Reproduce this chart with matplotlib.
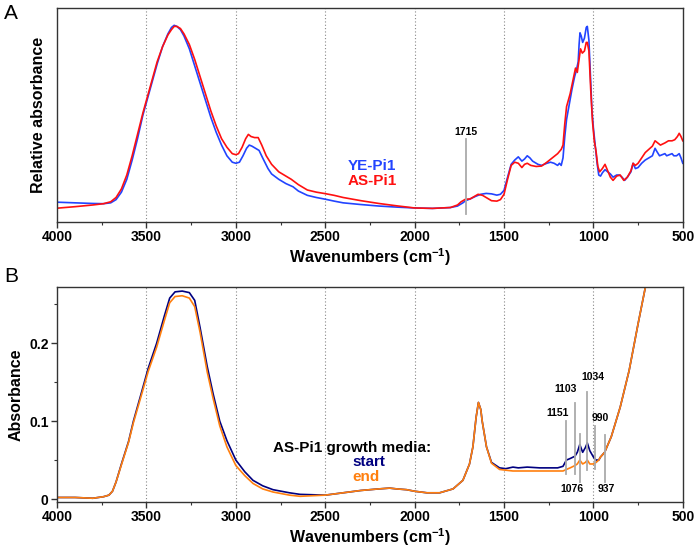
import numpy as np
import matplotlib
matplotlib.use("Agg")
import matplotlib.pyplot as plt
from matplotlib.ticker import MultipleLocator, FixedLocator

plt.rcParams['font.family'] = ['Liberation Sans', 'DejaVu Sans']
plt.rcParams['mathtext.fontset'] = 'custom'
plt.rcParams['mathtext.bf'] = 'Liberation Sans:bold'
plt.rcParams['mathtext.rm'] = 'Liberation Sans'

# Панель A: YE-Pi1 (синий) и AS-Pi1 (красный), относительное поглощение
wn_a_blue = [4000, 3900, 3800, 3740, 3700, 3670, 3640, 3610, 3580, 3550, 3520, 3500, 3470, 3440, 3410,
             3380, 3360, 3345, 3330, 3310, 3290, 3260, 3230, 3200, 3170, 3140, 3110, 3080, 3050, 3020,
             3000, 2980, 2960, 2940, 2925, 2910, 2890, 2870, 2850, 2820, 2800, 2760, 2720, 2680, 2650,
             2600, 2550, 2500, 2450, 2400, 2300, 2200, 2100, 2000, 1900, 1800, 1760, 1730, 1715, 1690,
             1660, 1630, 1600, 1570, 1540, 1520, 1500, 1480, 1460, 1440, 1420, 1400, 1385, 1370, 1355,
             1340, 1310, 1290, 1260, 1240, 1220, 1200, 1190, 1180, 1170, 1160, 1150, 1135, 1120, 1105,
             1095, 1085, 1080, 1075, 1068, 1060, 1050, 1040, 1034, 1025, 1015, 1008, 1000, 990, 980,
             970, 960, 950, 935, 920, 905, 890, 870, 855, 840, 825, 810, 790, 778, 765,
             750, 730, 710, 690, 670, 655, 645, 630, 615, 600, 590, 575, 560, 550, 535,
             520, 510, 500]
abs_a_blue = [0.093, 0.090, 0.087, 0.086, 0.090, 0.105, 0.14, 0.20, 0.29, 0.39, 0.50, 0.56, 0.65, 0.74, 0.82,
              0.88, 0.91, 0.92, 0.915, 0.90, 0.87, 0.81, 0.73, 0.65, 0.57, 0.49, 0.42, 0.36, 0.31, 0.28,
              0.275, 0.28, 0.31, 0.345, 0.36, 0.355, 0.345, 0.335, 0.30, 0.25, 0.225, 0.20, 0.18, 0.165, 0.145,
              0.125, 0.115, 0.107, 0.098, 0.090, 0.082, 0.075, 0.070, 0.066, 0.064, 0.068, 0.075, 0.090, 0.100, 0.108,
              0.120, 0.130, 0.134, 0.132, 0.126, 0.130, 0.148, 0.21, 0.27, 0.29, 0.305, 0.285, 0.295, 0.31, 0.30,
              0.285, 0.27, 0.265, 0.275, 0.28, 0.275, 0.265, 0.275, 0.265, 0.30, 0.40, 0.48, 0.55, 0.62, 0.68,
              0.71, 0.75, 0.83, 0.885, 0.87, 0.84, 0.86, 0.91, 0.915, 0.85, 0.65, 0.52, 0.44, 0.36, 0.28,
              0.22, 0.215, 0.23, 0.245, 0.235, 0.225, 0.21, 0.22, 0.22, 0.21, 0.195, 0.21, 0.235, 0.275, 0.25,
              0.255, 0.275, 0.29, 0.30, 0.31, 0.345, 0.33, 0.31, 0.315, 0.32, 0.31, 0.315, 0.32, 0.31, 0.31,
              0.32, 0.30, 0.275]

wn_a_red = [4000, 3900, 3800, 3740, 3700, 3670, 3640, 3610, 3580, 3550, 3520, 3500, 3470, 3440, 3410,
            3380, 3360, 3345, 3330, 3310, 3290, 3260, 3230, 3200, 3170, 3140, 3110, 3080, 3050, 3020,
            3000, 2985, 2965, 2945, 2930, 2915, 2895, 2875, 2855, 2830, 2800, 2760, 2720, 2690, 2650,
            2600, 2550, 2500, 2450, 2400, 2300, 2200, 2100, 2000, 1900, 1800, 1760, 1740, 1715, 1690,
            1670, 1645, 1620, 1600, 1570, 1540, 1520, 1500, 1480, 1460, 1440, 1420, 1400, 1385, 1370,
            1350, 1320, 1290, 1260, 1230, 1200, 1180, 1170, 1160, 1150, 1130, 1115, 1100, 1090, 1080,
            1072, 1062, 1050, 1040, 1034, 1025, 1015, 1005, 995, 985, 975, 965, 950, 935, 920,
            905, 890, 870, 850, 830, 810, 790, 778, 765, 750, 730, 710, 690, 670, 655,
            640, 625, 600, 580, 560, 545, 530, 520, 510, 500]
abs_a_red = [0.065, 0.072, 0.080, 0.086, 0.095, 0.115, 0.155, 0.22, 0.31, 0.41, 0.51, 0.57, 0.66, 0.75, 0.82,
             0.875, 0.90, 0.915, 0.915, 0.905, 0.88, 0.83, 0.76, 0.68, 0.60, 0.52, 0.45, 0.39, 0.35, 0.32,
             0.315, 0.32, 0.35, 0.39, 0.41, 0.40, 0.395, 0.395, 0.36, 0.31, 0.27, 0.235, 0.215, 0.20, 0.175,
             0.15, 0.14, 0.133, 0.125, 0.115, 0.100, 0.087, 0.076, 0.066, 0.064, 0.068, 0.08, 0.095, 0.107, 0.108,
             0.118, 0.13, 0.125, 0.115, 0.10, 0.098, 0.105, 0.13, 0.20, 0.265, 0.28, 0.275, 0.255, 0.27, 0.275,
             0.265, 0.26, 0.262, 0.28, 0.30, 0.32, 0.34, 0.36, 0.46, 0.54, 0.60, 0.66, 0.72, 0.70, 0.76,
             0.81, 0.79, 0.80, 0.84, 0.84, 0.80, 0.62, 0.47, 0.38, 0.33, 0.26, 0.235, 0.25, 0.27, 0.24,
             0.21, 0.195, 0.215, 0.22, 0.195, 0.21, 0.24, 0.275, 0.265, 0.275, 0.30, 0.325, 0.34, 0.355, 0.38,
             0.37, 0.36, 0.37, 0.38, 0.38, 0.385, 0.40, 0.415, 0.40, 0.38]

# Панель B: среда роста AS-Pi1, начало (start) и конец (end)
wn_b = [4000, 3900, 3800, 3740, 3710, 3690, 3670, 3640, 3600, 3573, 3530, 3490, 3443, 3400, 3370,
        3340, 3300, 3260, 3230, 3200, 3160, 3127, 3090, 3050, 3000, 2950, 2904, 2850, 2792, 2700,
        2641, 2500, 2400, 2300, 2200, 2140, 2100, 2045, 2000, 1931, 1860, 1785, 1730, 1693, 1674,
        1656, 1643, 1630, 1622, 1598, 1570, 1525, 1490, 1450, 1420, 1370, 1300, 1200, 1170, 1151,
        1130, 1103, 1090, 1076, 1060, 1045, 1034, 1020, 1000, 985, 970, 960, 937, 900, 850,
        800, 750, 710, 700]
abs_b_start = [0.002, 0.002, 0.001, 0.003, 0.005, 0.010, 0.022, 0.045, 0.074, 0.100, 0.135, 0.168, 0.200, 0.235, 0.258,
               0.266, 0.267, 0.265, 0.255, 0.220, 0.170, 0.135, 0.100, 0.075, 0.050, 0.035, 0.024, 0.017, 0.012, 0.008,
               0.006, 0.005, 0.008, 0.011, 0.013, 0.014, 0.013, 0.012, 0.010, 0.008, 0.008, 0.013, 0.024, 0.045, 0.067,
               0.105, 0.124, 0.115, 0.100, 0.067, 0.047, 0.040, 0.039, 0.041, 0.040, 0.041, 0.040, 0.040, 0.042, 0.050,
               0.052, 0.055, 0.060, 0.070, 0.060, 0.066, 0.072, 0.062, 0.054, 0.050, 0.050, 0.054, 0.060, 0.080, 0.118,
               0.165, 0.225, 0.271, 0.285]
abs_b_end = [0.002, 0.002, 0.001, 0.003, 0.005, 0.010, 0.022, 0.044, 0.073, 0.098, 0.132, 0.164, 0.195, 0.229, 0.252,
             0.260, 0.261, 0.258, 0.247, 0.214, 0.163, 0.129, 0.094, 0.067, 0.043, 0.030, 0.020, 0.013, 0.009, 0.005,
             0.0035, 0.005, 0.008, 0.011, 0.013, 0.014, 0.013, 0.012, 0.010, 0.008, 0.008, 0.013, 0.024, 0.045, 0.067,
             0.105, 0.124, 0.115, 0.100, 0.067, 0.046, 0.038, 0.037, 0.036, 0.036, 0.036, 0.036, 0.036, 0.036, 0.038,
             0.040, 0.043, 0.045, 0.050, 0.045, 0.047, 0.050, 0.045, 0.045, 0.047, 0.050, 0.054, 0.060, 0.080, 0.118,
             0.165, 0.225, 0.271, 0.285]

# подписи полос в панели B
peaks_b = [1151, 1103, 1076, 1034, 990, 937]
peak_lo_b = [0.032, 0.032, 0.022, 0.037, 0.039, 0.022]
peak_hi_b = [0.100, 0.123, 0.083, 0.138, 0.094, 0.082]
label_y_b = [0.104, 0.135, 0.006, 0.150, 0.098, 0.006]
label_x_b = [1202, 1155, 1120, 1005, 963, 925]

grid_lines = [3500, 3000, 2500, 2000, 1500, 1000]
line_gray = '#aaaaaa'
frame_col = '#333333'

fig = plt.figure(figsize=(6.96, 5.47), dpi=100)
axA = fig.add_axes([0.082, 0.594, 0.899, 0.391])
axB = fig.add_axes([0.082, 0.082, 0.899, 0.393])

for ax in (axA, axB):
    for g in grid_lines:
        ax.axvline(g, color='#888888', ls=(0, (1, 2)), lw=0.8, zorder=0)
    ax.set_xlim(4000, 500)
    ax.xaxis.set_major_locator(MultipleLocator(500))
    ax.xaxis.set_minor_locator(MultipleLocator(250))
    ax.tick_params(axis='x', which='major', direction='out', length=4, width=1, color=frame_col,
                   labelsize=10, pad=2)
    ax.tick_params(axis='x', which='minor', direction='out', length=2.5, width=0.8, color=frame_col)
    for lbl in ax.get_xticklabels():
        lbl.set_fontweight('bold')
    for s in ax.spines.values():
        s.set_color(frame_col)
        s.set_linewidth(1.0)
    ax.set_xlabel('Wavenumbers (cm$^{\\mathbf{-1}}$)', fontsize=11.5, fontweight='bold', labelpad=1)

# --- A ---
axA.plot(wn_a_blue, abs_a_blue, color='#2244ff', lw=1.2)
axA.plot(wn_a_red, abs_a_red, color='#ff1010', lw=1.2)
axA.set_ylim(0, 1)
axA.set_yticks([])
axA.set_ylabel('Relative absorbance', fontsize=11.5, fontweight='bold', labelpad=8)
axA.plot([1715, 1715], [0.04, 0.39], color=line_gray, lw=1.3)
axA.text(1715, 0.40, '1715', ha='center', va='bottom', fontsize=7.5, fontweight='bold')
axA.text(2372, 0.26, 'YE-Pi1', color='#2244ff', fontsize=11, fontweight='bold', ha='left', va='center')
axA.text(2372, 0.19, 'AS-Pi1', color='#ff1010', fontsize=11, fontweight='bold', ha='left', va='center')
fig.text(0.006, 0.992, 'A', fontsize=15, ha='left', va='top')

# --- B ---
axB.plot(wn_b, abs_b_start, color='#000080', lw=1.2)
axB.plot(wn_b, abs_b_end, color='#ff7f0e', lw=1.2)
axB.set_ylim(-0.004, 0.272)
axB.yaxis.set_major_locator(FixedLocator([0, 0.1, 0.2]))
axB.yaxis.set_minor_locator(FixedLocator([0.05, 0.15, 0.25]))
axB.set_yticklabels(['0', '0.1', '0.2'])
axB.tick_params(axis='y', which='major', direction='out', length=4, width=1, color=frame_col,
                labelsize=10, pad=2)
axB.tick_params(axis='y', which='minor', direction='out', length=2.5, width=0.8, color=frame_col)
for lbl in axB.get_yticklabels():
    lbl.set_fontweight('bold')
axB.set_ylabel('Absorbance', fontsize=11.5, fontweight='bold', labelpad=4)

for i in range(len(peaks_b)):
    axB.plot([peaks_b[i], peaks_b[i]], [peak_lo_b[i], peak_hi_b[i]], color=line_gray, lw=1.3)
    axB.text(label_x_b[i], label_y_b[i], str(peaks_b[i]), ha='center', va='bottom', fontsize=7.5,
             fontweight='bold')

axB.text(2352, 0.065, 'AS-Pi1 growth media:', fontsize=11, fontweight='bold', ha='center', va='center')
axB.text(2350, 0.047, 'start', color='#000080', fontsize=11, fontweight='bold', ha='left', va='center')
axB.text(2350, 0.028, 'end', color='#ff7f0e', fontsize=11, fontweight='bold', ha='left', va='center')
fig.text(0.006, 0.512, 'B', fontsize=15, ha='left', va='top')

plt.savefig('out.png', dpi=100)
